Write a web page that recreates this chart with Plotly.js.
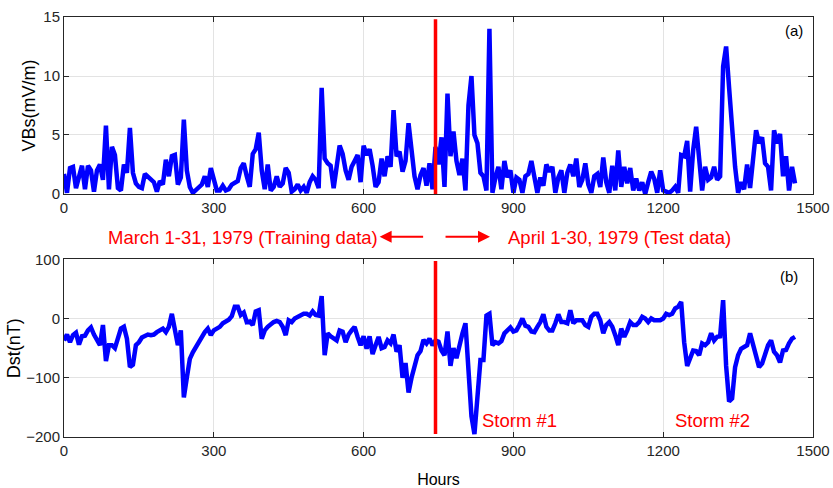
<!DOCTYPE html>
<html>
<head>
<meta charset="utf-8">
<script src="https://cdn.plot.ly/plotly-3.0.1.min.js"></script>
<style>html,body{margin:0;padding:0;background:#fff}#chart{width:833px;height:488px}</style>
</head>
<body>
<div id="chart"></div>
<script>
// Hourly record sampled every 6 hours, March 1 - April 30, 1979
const STEP_HOURS = 6;
const VBs = [
 1.7,0.1,2.2,2.3,0.5,1.4,2.4,0.4,2.4,2.0,
 0.2,2.0,2.5,1.2,5.8,0.4,4.0,3.3,0.5,0.3,
 2.5,1.8,5.6,1.8,0.9,0.6,0.5,1.7,1.5,1.2,
 1.0,0.2,1.1,0.8,2.9,1.5,3.2,3.3,0.8,1.4,
 6.3,2.0,0.6,0.1,0.3,0.6,0.8,1.5,0.6,2.2,
 1.2,0.3,0.3,0.7,0.3,0.4,0.8,0.9,1.1,2.2,
 2.6,1.5,0.6,3.4,3.8,5.2,2.0,0.4,2.5,0.3,
 0.6,1.5,0.6,0.9,2.2,1.8,0.2,0.4,0.8,0.3,
 0.6,0.1,1.0,1.5,1.2,0.5,9.0,3.0,2.6,2.4,
 0.5,2.3,4.1,3.4,2.0,1.2,2.3,2.8,3.3,1.0,
 4.1,3.3,3.8,2.4,0.6,1.0,3.0,1.5,3.2,2.3,
 7.1,3.2,3.6,1.9,2.8,6.0,3.8,1.5,0.4,1.6,
 2.2,0.7,2.6,0.4,4.0,2.5,4.8,0.6,8.5,3.2,
 5.3,2.8,1.6,3.0,0.3,7.5,10.0,5.0,4.3,1.8,
 1.5,0.3,14.0,0.1,1.4,2.3,0.4,2.8,1.4,2.0,
 0.1,1.4,1.2,0.1,1.5,1.7,2.8,1.2,0.1,1.4,
 0.7,2.5,1.9,2.3,0.1,1.4,2.0,0.1,1.8,2.5,
 1.5,3.0,0.6,1.2,2.6,0.8,0.1,1.5,1.7,0.6,
 3.1,1.0,0.1,2.4,0.3,3.7,0.6,2.3,0.9,2.2,
 0.3,1.3,0.3,1.0,0.0,1.0,1.9,1.3,0.1,2.0,
 0.3,0.2,0.1,0.3,0.6,0.1,3.3,3.2,4.5,0.2,
 3.7,5.7,2.6,0.3,2.3,1.2,1.4,2.3,1.2,1.5,
 10.8,12.5,9.0,5.0,2.3,0.1,1.0,0.4,2.5,0.5,
 3.3,5.4,4.3,4.8,2.6,2.3,0.3,5.4,4.3,5.1,
 1.5,3.2,0.3,2.3,0.9
];
const Dst = [
 -37,-27,-40,-28,-24,-44,-30,-29,-20,-15,
 -27,-37,-45,-11,-72,-45,-45,-50,-31,-17,
 -14,-34,-82,-78,-45,-40,-32,-29,-27,-28,
 -27,-23,-20,-17,-23,-14,8,-17,-45,-20,
 -133,-100,-68,-57,-48,-39,-31,-23,-17,-28,
 -20,-17,-14,-8,-6,-2,4,20,20,6,
 10,-6,-5,-11,12,14,-34,-20,-14,-9,
 -6,-4,-6,-14,-28,-3,-6,0,3,5,
 8,8,5,12,6,5,38,-62,-25,-30,
 -34,-37,-20,-22,-40,-27,-20,-14,-31,-45,
 -30,-51,-30,-60,-45,-31,-50,-48,-37,-42,
 -27,-56,-45,-100,-75,-125,-100,-82,-62,-55,
 -36,-42,-34,-45,-37,-39,-54,-62,-22,-80,
 -50,-67,-42,-25,-8,-100,-165,-195,-120,-70,
 -70,5,8,-45,-40,-42,-38,-25,-20,-15,
 -22,-20,-11,0,-12,-14,-22,-23,-14,-6,
 7,-14,-20,-20,-8,7,-6,-6,-8,14,
 -8,-3,-3,-3,-11,-14,3,8,8,-3,
 -25,-11,-6,-14,-28,-45,-17,-31,-20,-6,
 -11,-11,-6,3,0,-6,0,-3,-3,-3,
 0,8,6,8,17,20,28,-40,-80,-65,
 -54,-55,-62,-42,-45,-40,-25,-37,-31,-30,
 31,-80,-140,-135,-82,-62,-51,-48,-45,-25,
 -45,-65,-82,-76,-59,-45,-37,-56,-62,-74,
 -54,-53,-42,-34,-31
];
const splitHour = 744;           // end of March (31 days x 24 h)
const splitVBs = [14.8, 0];
const splitDst = [97, -195];
const xTicks = [0, 300, 600, 900, 1200, 1500];
const vbsTicks = [0, 5, 10, 15];
const dstTicks = [-200, -100, 0, 100];
const hoursVBs = VBs.map((_, i) => i * STEP_HOURS);
const hoursDst = Dst.map((_, i) => i * STEP_HOURS);

const SANS = '"Liberation Sans", Arial, Helvetica, sans-serif';
const INK = '#262626';
const RED = '#ff0000';
const BLUE = '#0000ff';

const traces = [
  {x: hoursVBs, y: VBs, xaxis: 'x', yaxis: 'y', mode: 'lines', line: {color: BLUE, width: 4.5}, hoverinfo: 'skip'},
  {x: [splitHour, splitHour], y: splitVBs, xaxis: 'x', yaxis: 'y', mode: 'lines', line: {color: RED, width: 3.5}, hoverinfo: 'skip'},
  {x: hoursDst, y: Dst, xaxis: 'x2', yaxis: 'y2', mode: 'lines', line: {color: BLUE, width: 4.5}, hoverinfo: 'skip'},
  {x: [splitHour, splitHour], y: splitDst, xaxis: 'x2', yaxis: 'y2', mode: 'lines', line: {color: RED, width: 3.5}, hoverinfo: 'skip'}
];

const axBase = {
  showline: true, linecolor: INK, linewidth: 1, mirror: 'ticks',
  ticks: 'inside', ticklen: 5, tickwidth: 1, tickcolor: INK,
  showgrid: true, gridcolor: '#e3e3e3', gridwidth: 1, zeroline: false,
  tickfont: {family: SANS, size: 15, color: INK},
  automargin: false, fixedrange: true
};

const layout = {
  width: 833, height: 488,
  margin: {l: 64, r: 20, t: 17, b: 51},
  paper_bgcolor: '#ffffff', plot_bgcolor: '#ffffff',
  showlegend: false,
  xaxis: Object.assign({}, axBase, {domain: [0, 1], anchor: 'y', range: [0, 1500], tickvals: xTicks}),
  yaxis: Object.assign({}, axBase, {domain: [0.5786, 1], anchor: 'x', range: [0, 15], tickvals: vbsTicks,
    title: {text: 'VBs(mV/m)', font: {family: SANS, size: 18, color: '#000'}, standoff: 3}}),
  xaxis2: Object.assign({}, axBase, {domain: [0, 1], anchor: 'y2', range: [0, 1500], tickvals: xTicks,
    title: {text: 'Hours', font: {family: SANS, size: 16, color: '#000'}, standoff: 15}}),
  yaxis2: Object.assign({}, axBase, {domain: [0, 0.4231], anchor: 'x2', range: [-200, 100], tickvals: dstTicks,
    title: {text: 'Dst(nT)', font: {family: SANS, size: 18, color: '#000'}, standoff: 0}}),
  annotations: [
    {xref: 'paper', yref: 'paper', x: 0.9746, y: 0.9667, text: '(a)', showarrow: false,
     font: {family: SANS, size: 15, color: '#000'}, xanchor: 'center', yanchor: 'middle'},
    {xref: 'paper', yref: 'paper', x: 0.968, y: 0.381, text: '(b)', showarrow: false,
     font: {family: SANS, size: 15, color: '#000'}, xanchor: 'center', yanchor: 'middle'},
    {xref: 'paper', yref: 'paper', x: 0.239, y: 0.476, text: 'March 1-31, 1979 (Training data)', showarrow: false,
     font: {family: SANS, size: 18.5, color: RED}, xanchor: 'center', yanchor: 'middle'},
    {xref: 'paper', yref: 'paper', x: 0.7423, y: 0.476, text: 'April 1-30, 1979 (Test data)', showarrow: false,
     font: {family: SANS, size: 18.5, color: RED}, xanchor: 'center', yanchor: 'middle'},
    {xref: 'paper', yref: 'paper', x: 0.6088, y: 0.0381, text: 'Storm #1', showarrow: false,
     font: {family: SANS, size: 18.5, color: RED}, xanchor: 'center', yanchor: 'middle'},
    {xref: 'paper', yref: 'paper', x: 0.8658, y: 0.0381, text: 'Storm #2', showarrow: false,
     font: {family: SANS, size: 18.5, color: RED}, xanchor: 'center', yanchor: 'middle'},
    {xref: 'paper', yref: 'paper', x: 0.4214, y: 0.477, text: '', showarrow: true, ax: 45, ay: 0,
     arrowhead: 2, arrowsize: 1.2, arrowwidth: 2, arrowcolor: RED, standoff: 0, startstandoff: 0},
    {xref: 'paper', yref: 'paper', x: 0.5688, y: 0.477, text: '', showarrow: true, ax: -46, ay: 0,
     arrowhead: 2, arrowsize: 1.2, arrowwidth: 2, arrowcolor: RED, standoff: 0, startstandoff: 0}
  ]
};

Plotly.newPlot('chart', traces, layout, {staticPlot: true, displayModeBar: false});
</script>
</body>
</html>
